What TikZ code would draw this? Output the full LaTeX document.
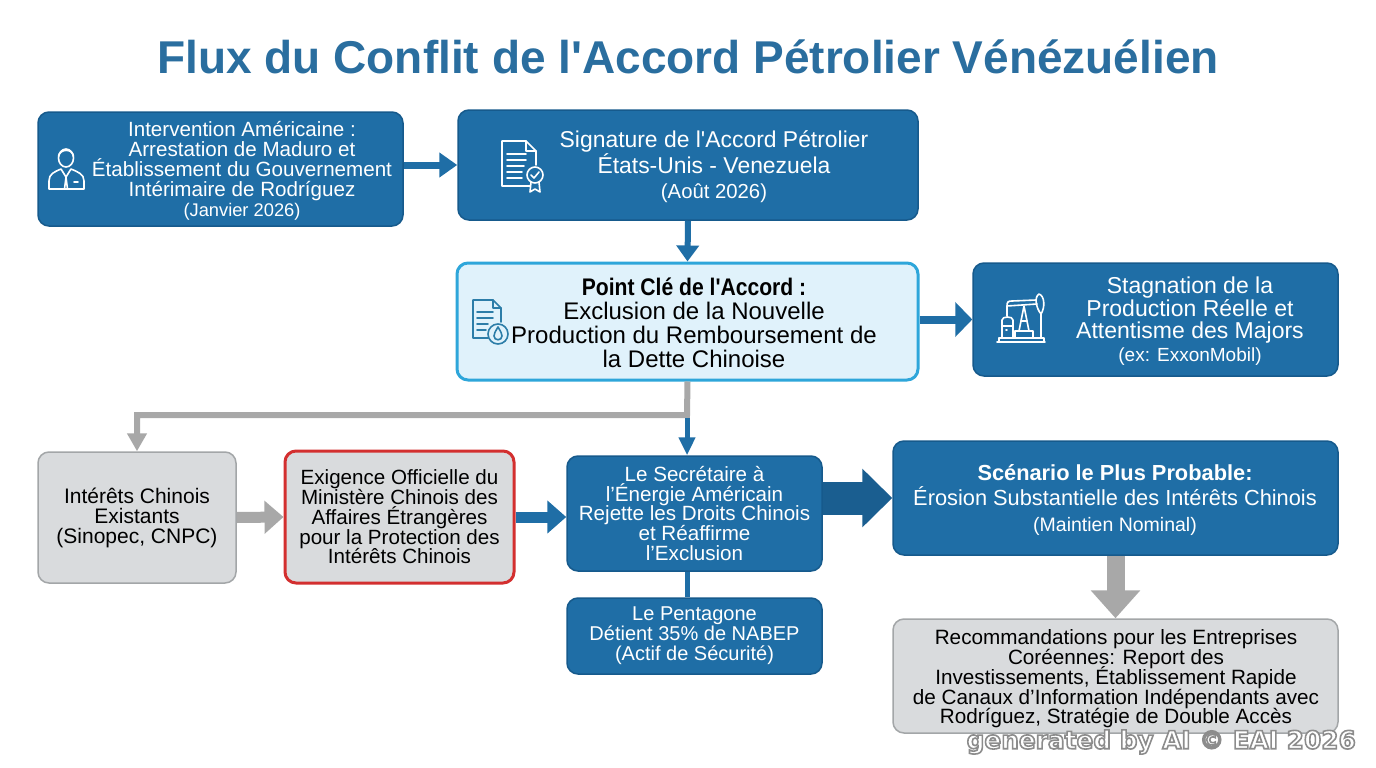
\documentclass[tikz,border=0pt]{standalone}
\usepackage{fontspec}
\setmainfont{Liberation Sans}[Ligatures=TeXOff]
\newfontfamily\cond{Liberation Sans}[FakeStretch=0.88]
\newfontfamily\wmfont{DejaVu Sans}
\usetikzlibrary{arrows.meta}
\lineskiplimit=-30pt
\definecolor{dblue}{HTML}{1F6EA6}
\definecolor{dborder}{HTML}{165A8C}
\definecolor{lblue}{HTML}{E0F2FB}
\definecolor{lborder}{HTML}{2EA6DA}
\definecolor{gfill}{HTML}{D9DBDD}
\definecolor{gborder}{HTML}{A3A6A8}
\definecolor{redb}{HTML}{D32F2F}
\definecolor{titleblue}{HTML}{2A6E9F}
\definecolor{bigblue}{HTML}{1A5E90}
\definecolor{garrow}{HTML}{A8A8A8}
\definecolor{icondark}{HTML}{2C7DA8}
\tikzset{
  boxbase/.style={rounded corners=11pt, align=center, inner sep=0pt},
  bluebox/.style={boxbase, draw=dborder, fill=dblue, line width=1.5pt, text=white},
  lightbox/.style={boxbase, draw=lborder, fill=lblue, line width=3pt, text=black},
  graybox/.style={boxbase, draw=gborder, fill=gfill, line width=1.5pt, text=black},
  redbox/.style={boxbase, draw=redb, fill=gfill, line width=3pt, text=black},
  wtext/.style={align=center, text=white, inner sep=0pt},
  btext/.style={align=center, text=black, inner sep=0pt},
  bluearrow/.style={draw=dblue, line width=7pt, -{Triangle[length=18pt,width=24pt]}},
  midblue/.style={draw=dblue, line width=11pt, -{Triangle[length=19pt,width=32pt]}},
  grayarrow/.style={draw=garrow, line width=11pt, -{Triangle[length=19pt,width=32pt]}},
  icon/.style={draw=white, line width=1.6pt, line join=round, line cap=round},
  icondk/.style={draw=icondark, line width=1.6pt, line join=round, line cap=round},
}
\begin{document}
\begin{tikzpicture}[x=1pt,y=-1pt]
\useasboundingbox (0,0) rectangle (1376,768);
\fill[white] (0,0) rectangle (1376,768);

% title
\node[text=titleblue, inner sep=0pt, font=\bfseries\fontsize{46}{50}\selectfont] (title) at (688,57) {Flux du Conflit de l'Accord Pétrolier Vénézuélien};

% row 1
\node[bluebox, minimum width=365, minimum height=114] (inter) at (220.5,169) {};
\node[wtext, font=\fontsize{20.6}{19.9}\selectfont] (intertxt) at (242,171) {Intervention Américaine :\\Arrestation de Maduro et\\Établissement du Gouvernement\\Intérimaire de Rodríguez\\{\fontsize{18.3}{19.9}\selectfont(Janvier 2026)}};

\node[bluebox, minimum width=460, minimum height=110] (sig) at (688,165) {};
\node[wtext, font=\fontsize{22.9}{25.5}\selectfont] (sigtxt) at (714,167) {Signature de l'Accord Pétrolier\\États-Unis - Venezuela\\{\fontsize{20.3}{25.5}\selectfont(Août 2026)}};

% row 2
\node[lightbox, minimum width=461, minimum height=117] (pc) at (687.5,321.5) {};
\node[btext, font=\fontsize{24}{24}\selectfont] (pctxt) at (694,323) {{\cond\bfseries Point Clé de l'Accord :}\\Exclusion de la Nouvelle\\Production du Remboursement de\\la Dette Chinoise};

\node[bluebox, minimum width=365, minimum height=113] (stag) at (1155.5,319.5) {};
\node[wtext, font=\fontsize{23}{22.5}\selectfont] (stagtxt) at (1190,321) {Stagnation de la\\Production Réelle et\\Attentisme des Majors\\{\fontsize{19}{22.5}\selectfont(ex: ExxonMobil)}};

% row 3
\node[graybox, minimum width=198, minimum height=131, font=\fontsize{21}{20}\selectfont] (cn) at (137,517.5) {Intérêts Chinois\\Existants\\(Sinopec, CNPC)};
\node[redbox, minimum width=229, minimum height=132, font=\fontsize{20.6}{19.8}\selectfont] (mae) at (399.5,517) {Exigence Officielle du\\Ministère Chinois des\\Affaires Étrangères\\pour la Protection des\\Intérêts Chinois};
\node[bluebox, minimum width=255, minimum height=115, font=\fontsize{20.6}{19.8}\selectfont] (sec) at (694.5,513.5) {Le Secrétaire à\\l’Énergie Américain\\Rejette les Droits Chinois\\et Réaffirme\\l’Exclusion};
\node[bluebox, minimum width=255, minimum height=76, font=\fontsize{20}{20}\selectfont] (pent) at (694.5,636) {Le Pentagone\\Détient 35\% de NABEP\\(Actif de Sécurité)};

\node[bluebox, minimum width=445, minimum height=114] (scen) at (1115.5,498) {};
\node[wtext, font=\fontsize{21.8}{25.5}\selectfont] (scentxt) at (1115,500) {{\bfseries Scénario le Plus Probable:}\\Érosion Substantielle des Intérêts Chinois\\{\fontsize{19.5}{24}\selectfont(Maintien Nominal)}};

\node[graybox, minimum width=445, minimum height=114] (reco) at (1115.5,676) {};
\node[btext, font=\fontsize{20.7}{19.8}\selectfont] (recotxt) at (1116,679) {Recommandations pour les Entreprises\\Coréennes: Report des\\Investissements, Établissement Rapide\\de Canaux d’Information Indépendants avec\\Rodríguez, Stratégie de Double Accès};

% connectors
\draw[bluearrow] (inter.east |- sig.west) -- (sig.west);
\draw[draw=dblue, line width=6pt, -{Triangle[length=16pt,width=22pt]}] (sig.south) -- (pc.north);
\draw[draw=dblue, line width=8pt, -{Triangle[length=17pt,width=34pt]}] (pc.east |- stag.west) -- (stag.west);
\coordinate (j) at (687,415);
\draw[draw=garrow, line width=6pt, line join=miter, -{Triangle[length=18pt,width=19pt]}] (pc.south) -- (j) -| (cn.north);
\draw[draw=dblue, line width=5pt, -{Triangle[length=18pt,width=16pt]}] ([yshift=-3pt]j) -- (sec.north -| j);
\draw[grayarrow] (cn.east) -- (mae.west);
\draw[midblue] (mae.east) -- (sec.west |- mae.east);
\draw[draw=dblue, line width=5pt] (sec.south -| j) -- (pent.north -| j);
\draw[draw=bigblue, line width=33pt, -{Triangle[length=30pt,width=57pt]}] (sec.east |- scen.west) -- (scen.west);
\draw[draw=garrow, line width=18pt, -{Triangle[length=28pt,width=48pt]}] (scen.south) -- (reco.north);

% icon: person
\begin{scope}[icon]
\draw (66,158) ellipse (7.5 and 9);
\draw (58.5,156) .. controls (60,149) and (72,148) .. (73.5,156);
\draw (49,189) -- (49,181) .. controls (49,174) and (54,172) .. (61,169) -- (66,177) -- (71,169) .. controls (78,172) and (84,174) .. (84,181) -- (84,189) -- cycle;
\draw (66,177) -- (64.5,189);
\draw (66,177) -- (67.5,189);
\draw (74,182) -- (78,182);
\end{scope}

% icon: document with badge
\begin{scope}[icon]
\draw (530,186) -- (502,186) -- (502,141) -- (526,141) -- (536,151) -- (536,165);
\draw (526,141) -- (526,151) -- (536,151);
\draw (507,154) -- (526,154);
\draw (507,160) -- (526,160);
\draw (507,166) -- (524,166);
\draw (507,172) -- (522,172);
\draw (507,178) -- (522,178);
\draw (535,175) circle (8);
\draw (531,175) -- (534,178) -- (539,172);
\draw (531,182) -- (530,192) -- (535,189) -- (540,192) -- (539,182);
\end{scope}

% icon: document with drop
\begin{scope}[icondk]
\draw (488,338) -- (473,338) -- (473,300) -- (493,300) -- (501,308) -- (501,322);
\draw (493,300) -- (493,308) -- (501,308);
\draw (477,312) -- (493,312);
\draw (477,318) -- (493,318);
\draw (477,324) -- (488,324);
\draw (477,330) -- (486,330);
\draw (498,334) circle (10);
\draw (498,327) .. controls (495,332) and (494,334) .. (494,336) .. controls (494,341) and (502,341) .. (502,336) .. controls (502,334) and (501,332) .. (498,327) -- cycle;
\end{scope}

% icon: pump jack
\begin{scope}[icon]
\draw (997,342) -- (1045,342);
\draw (999,342) -- (999,338) -- (1044,338) -- (1044,342);
\draw (1002,338) -- (1002,320) .. controls (1002,316) and (1013,316) .. (1013,320) -- (1013,338);
\draw (1002,326) -- (1013,326);
\draw (1015,338) -- (1015,331) -- (1033,331) -- (1033,338);
\draw (1019,331) -- (1024,306) -- (1029,331);
\draw (1021,321) -- (1027,321);
\draw (1007,316) -- (1007,306) -- (1037,304);
\draw (1007,306) .. controls (1007,302) and (1008,301) .. (1012,301) -- (1036,300);
\draw (1039,294) .. controls (1034,297) and (1036,308) .. (1041,314) .. controls (1045,308) and (1045,296) .. (1039,294) -- cycle;
\draw (1041,314) -- (1041,338);
\draw (1006,330) -- (1007,330);
\end{scope}

% watermark (white text with grey outline)
\node[inner sep=0pt, anchor=east, text=white, font=\wmfont\bfseries\fontsize{24.8}{26}\selectfont] (wm) at (1356,742) {\special{pdf:code 0.55 G 1.6 w 2 Tr}generated by AI © EAI 2026\special{pdf:code 0 Tr}};
\end{tikzpicture}
\end{document}
